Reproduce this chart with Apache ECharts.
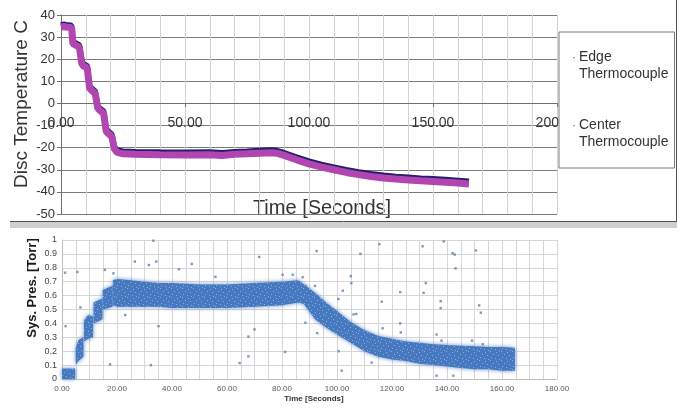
<!DOCTYPE html>
<html>
<head>
<meta charset="utf-8">
<script src="https://cdn.jsdelivr.net/npm/echarts@6/dist/echarts.min.js"></script>
<style>html,body{margin:0;padding:0;background:#fff;}#c{width:681px;height:411px;}</style>
</head>
<body>
<div id="c"></div>
<script>
// ---- Top chart: disc temperature (°C) vs time (s)
const tempTime   = [0,1,2,3,4.3,4.8,5.5,7.4,8.4,9,10.6,11.5,12.2,13.8,14.8,15.5,17.2,18.2,19,20.5,21.5,22.5,25,30,40,50,60,65,70,75,80,85,87,90,95,100,105,110,115,120,125,130,135,140,145,150,155,160,164.5];
const edgeTemp   = [35.5,35.8,35.6,35.5,35.3,28,27.5,26.5,19,18,17,8,7,5.5,-1,-2,-3.5,-11.5,-12.5,-14,-19.5,-21,-21.6,-21.8,-22,-22.1,-22,-22.3,-21.8,-21.6,-21.3,-21.1,-21.3,-22.3,-24.3,-26.1,-27.6,-28.8,-30,-31,-31.8,-32.5,-33,-33.4,-33.8,-34.1,-34.4,-34.8,-35.2];
const centerTemp = [34.5,34.8,34.6,34.5,34.3,27,26.5,25.5,18,17,16,7,6,4.5,-2,-3,-4.5,-12.5,-13.5,-15,-20.5,-22,-22.8,-23,-23.2,-23.3,-23.2,-23.5,-23,-22.8,-22.5,-22.3,-22.5,-23.5,-25.5,-27.3,-28.8,-30,-31.2,-32.2,-33,-33.7,-34.2,-34.6,-35,-35.3,-35.6,-36,-36.4];
const seriesNames = ['Edge\nThermocouple','Center\nThermocouple'];

// ---- Bottom chart: system pressure (Torr) vs time (s) — extent of the dense point cloud (null = gap between steps)
const presTime = [0,4.8,null,5,6,7.8,null,8,9.5,11.3,null,11.5,14.7,null,14.8,18.4,null,18.5,20,25,30,35,40,50,60,70,80,86,88,92,96,100,105,110,115,120,125,130,135,140,145,150,155,160,164.7];
const presLow  = [0,0,null,0.1,0.13,0.16,null,0.27,0.29,0.3,null,0.4,0.43,null,0.5,0.52,null,0.53,0.52,0.52,0.52,0.52,0.51,0.51,0.51,0.52,0.53,0.55,0.54,0.43,0.37,0.32,0.26,0.2,0.16,0.14,0.13,0.11,0.1,0.09,0.08,0.07,0.07,0.06,0.06];
const presHigh = [0.075,0.075,null,0.22,0.28,0.3,null,0.42,0.46,0.45,null,0.55,0.58,null,0.64,0.67,null,0.71,0.72,0.71,0.7,0.69,0.69,0.68,0.68,0.69,0.7,0.71,0.68,0.62,0.55,0.49,0.41,0.35,0.31,0.29,0.27,0.26,0.25,0.245,0.24,0.235,0.23,0.23,0.225];
// isolated stray readings
const outlierTime = [1.1,1.3,5.6,6.7,15.6,18.7,17.5,23,26.5,31.6,32.3,33.2,34.3,35.1,42.5,47.2,55.8,64.6,67.8,67.8,70,71.7,80.2,81.1,83.9,87.5,88.6,88.5,92,92.6,92.8,100.5,100.6,101.7,102.1,105,105.2,106,107,108.5,112.6,115.4,116.3,116.6,123,123,123.2,131.1,131.5,132.3,136.2,136.2,137.7,137.7,138,138.8,142,142.8,143.1,142.3,149.1,150.5,151.7,152.3,153];
const outlierPres = [0.765,0.38,0.77,0.515,0.785,0.76,0.105,0.46,0.845,0.82,0.1,0.995,0.845,0.38,0.79,0.828,0.735,0.115,0.163,0.305,0.357,0.878,0.75,0.195,0.75,0.732,0.67,0.405,0.67,0.92,0.33,0.575,0.2,0.06,0.635,0.74,0.69,0.465,0.468,0.9,0.118,0.97,0.556,0.365,0.625,0.4,0.335,0.955,0.62,0.69,0.32,0.024,0.56,0.51,0.276,0.99,0.905,0.895,0.796,0.024,0.276,0.925,0.53,0.477,0.25];

// build segments
const segs = []; let cur = null;
presTime.forEach((t, i) => {
  if (t === null) { cur = null; return; }
  if (!cur) { cur = {t: [], lo: [], hi: []}; segs.push(cur); }
  cur.t.push(t); cur.lo.push(presLow[i]); cur.hi.push(presHigh[i]);
});

// speckled fill resembling a dense point cloud
const pc = document.createElement('canvas'); pc.width = 11; pc.height = 9;
const pctx = pc.getContext('2d');
pctx.fillStyle = '#4679c0'; pctx.fillRect(0, 0, 11, 9);
pctx.fillStyle = '#8fb0dc';
[[1,1],[6,0],[9,3],[3,4],[7,6],[0,7],[4,8]].forEach(p => pctx.fillRect(p[0], p[1], 1, 1));

const chart = echarts.init(document.getElementById('c'), null, {renderer: 'canvas'});
const FF = '"Liberation Sans", Arial, sans-serif';
const FN = '"Liberation Sans Narrow", "Liberation Sans", Arial, sans-serif';

chart.setOption({
  animation: false,
  backgroundColor: '#ffffff',
  textStyle: {fontFamily: FF},
  grid: [
    {left: 61, top: 15, width: 496, height: 199},
    {left: 62, top: 240, width: 495, height: 139}
  ],
  legend: {
    data: [{name: seriesNames[0], icon: 'none'}, {name: seriesNames[1], icon: 'none'}],
    orient: 'vertical', left: 559, top: 32,
    itemWidth: 0, itemHeight: 3, itemGap: 34,
    padding: [17, 6, 17, 8],
    borderColor: '#7a7a7a', borderWidth: 1, borderRadius: 0,
    backgroundColor: '#ffffff',
    formatter: name => {
      const p = name.split('\n');
      return '{d|·}{t|' + p[0] + '}\n{d| }{t|' + p[1] + '}';
    },
    textStyle: {
      fontSize: 14, color: '#333', lineHeight: 17, fontFamily: FF,
      rich: {
        d: {width: 7, fontSize: 12, color: '#666', lineHeight: 17, fontFamily: FF},
        t: {fontSize: 14, color: '#333', lineHeight: 17, fontFamily: FF}
      }
    },
    selectedMode: false, z: 10
  },
  xAxis: [
    {
      gridIndex: 0, type: 'value', min: 0, max: 200, interval: 50,
      position: 'bottom', offset: -111,
      axisLine: {onZero: false, lineStyle: {color: '#6f6f6f'}},
      axisTick: {show: true, length: 4, lineStyle: {color: '#6f6f6f'}},
      axisLabel: {formatter: v => v.toFixed(2), fontSize: 14, color: '#333', margin: 13, fontFamily: FF},
      splitLine: {show: true, lineStyle: {color: '#d2d2d2'}},
      minorTick: {show: false, splitNumber: 5},
      minorSplitLine: {show: true, lineStyle: {color: '#d2d2d2'}}
    },
    {
      gridIndex: 1, type: 'value', min: 0, max: 180, interval: 20,
      axisLine: {onZero: false, lineStyle: {color: '#bdbdbd'}},
      axisTick: {show: false},
      axisLabel: {formatter: v => v.toFixed(2), fontSize: 8, color: '#595959', margin: 6, fontFamily: FN},
      splitLine: {show: true, lineStyle: {color: '#d6d6d6'}},
      minorTick: {show: false, splitNumber: 4},
      minorSplitLine: {show: true, lineStyle: {color: '#d6d6d6'}}
    }
  ],
  yAxis: [
    {
      gridIndex: 0, type: 'value', min: -50, max: 40, interval: 10,
      axisLine: {show: true, onZero: false, lineStyle: {color: '#6f6f6f'}},
      axisTick: {show: true, length: 4, lineStyle: {color: '#6f6f6f'}},
      axisLabel: {fontSize: 13, color: '#333', margin: 6, fontFamily: FF},
      splitLine: {show: true, lineStyle: {color: '#7a7a7a'}}
    },
    {
      gridIndex: 1, type: 'value', min: 0, max: 1, interval: 0.1,
      axisLine: {show: true, onZero: false, lineStyle: {color: '#bdbdbd'}},
      axisTick: {show: false},
      axisLabel: {fontSize: 9, color: '#444', margin: 5, fontFamily: FF},
      splitLine: {show: true, lineStyle: {color: '#d6d6d6'}}
    }
  ],
  series: [
    {
      name: seriesNames[0], type: 'line', xAxisIndex: 0, yAxisIndex: 0,
      data: tempTime.map((t, i) => [t, edgeTemp[i]]),
      showSymbol: false, symbol: 'circle',
      lineStyle: {color: '#251d6e', width: 5.5},
      itemStyle: {color: '#555'}, z: 2
    },
    {
      name: seriesNames[1], type: 'line', xAxisIndex: 0, yAxisIndex: 0,
      data: tempTime.map((t, i) => [t, centerTemp[i]]),
      showSymbol: false, symbol: 'circle',
      lineStyle: {color: '#b146b0', width: 7},
      itemStyle: {color: '#777'}, z: 3
    },
    {
      name: 'pressure', type: 'custom', xAxisIndex: 1, yAxisIndex: 1,
      data: segs.map((s, k) => [s.t[0], s.lo[0], k]),
      encode: {x: 0, y: 1},
      renderItem: (params, api) => {
        const s = segs[api.value(2)];
        const pts = [];
        for (let i = 0; i < s.t.length; i++) pts.push(api.coord([s.t[i], s.hi[i]]));
        for (let i = s.t.length - 1; i >= 0; i--) pts.push(api.coord([s.t[i], s.lo[i]]));
        return {
          type: 'polygon', shape: {points: pts},
          style: {fill: {image: pc, repeat: 'repeat'}, shadowBlur: 4, shadowColor: 'rgba(70,121,192,0.85)'}
        };
      },
      z: 2
    },
    {
      name: 'outliers', type: 'scatter', xAxisIndex: 1, yAxisIndex: 1,
      data: outlierTime.map((t, i) => [t, outlierPres[i]]),
      symbol: 'rect', symbolSize: 2.4,
      itemStyle: {color: '#5d7fb2'}, z: 3
    }
  ],
  graphic: [
    {type: 'rect', shape: {x: 10, y: 222, width: 667, height: 6}, style: {fill: '#cfcfcf'}, z: 1},
    {type: 'line', shape: {x1: 10, y1: 221.5, x2: 677, y2: 221.5}, style: {stroke: '#505050', lineWidth: 1}, z: 2},
    {type: 'line', shape: {x1: 676.5, y1: 0, x2: 676.5, y2: 222}, style: {stroke: '#505050', lineWidth: 1}, z: 2},
    {type: 'text', x: 22, y: 104, rotation: Math.PI / 2,
     style: {text: 'Disc Temperature C', fontSize: 19, fill: '#333', fontFamily: FF, textAlign: 'center', textVerticalAlign: 'middle'}},
    {type: 'text', x: 322, y: 208,
     style: {text: 'Time [Seconds]', fontSize: 20, fill: '#333', fontFamily: FF, textAlign: 'center', textVerticalAlign: 'middle'}},
    {type: 'text', x: 32, y: 288, rotation: Math.PI / 2,
     style: {text: 'Sys. Pres. [Torr]', fontSize: 13, fontWeight: 'bold', fill: '#1a1a1a', fontFamily: FF, textAlign: 'center', textVerticalAlign: 'middle'}},
    {type: 'text', x: 314, y: 399,
     style: {text: 'Time [Seconds]', fontSize: 8, fontWeight: 'bold', fill: '#333', fontFamily: FN, textAlign: 'center', textVerticalAlign: 'middle'}}
  ]
});
</script>
</body>
</html>
